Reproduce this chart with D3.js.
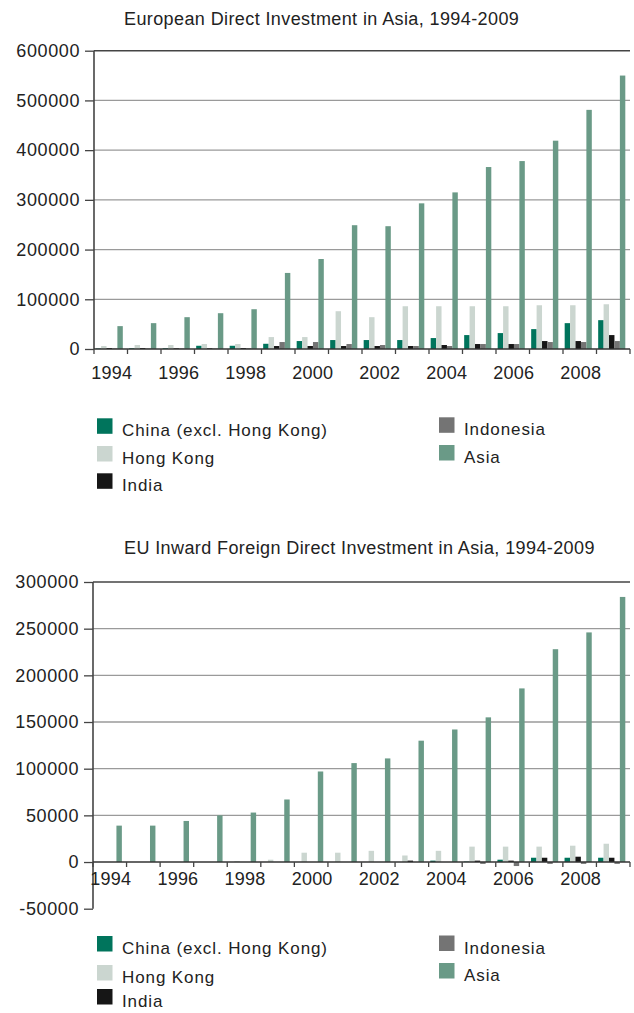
<!DOCTYPE html>
<html>
<head>
<meta charset="utf-8">
<script src="https://cdn.jsdelivr.net/npm/d3@7"></script>
<style>
  html, body { margin: 0; padding: 0; background: #fff; }
  svg { display: block; }
  text { font-family: "Liberation Sans", Arial, Helvetica, sans-serif; fill: #222; }
</style>
</head>
<body>
<svg id="chart" width="634" height="1013"></svg>
<script>
// ---------- DATA ----------
const years = ["1994","1995","1996","1997","1998","1999","2000","2001","2002","2003","2004","2005","2006","2007","2008","2009"];
const yearLabels = ["1994","1996","1998","2000","2002","2004","2006","2008"];
const series = ["China (excl. Hong Kong)", "Hong Kong", "India", "Indonesia", "Asia"];
const colors = ["#00745c", "#cbd6d0", "#161616", "#747474", "#6a9a87"];

// Chart 1: European Direct Investment in Asia
const title1 = "European Direct Investment in Asia, 1994-2009";
const top_china     = [1000, 1500, 1500, 6500, 6500, 10500, 16000, 18000, 18000, 18000, 22000, 28000, 32000, 40000, 52000, 58000];
const top_hongkong  = [6000, 8000, 8000, 10000, 10000, 24000, 24000, 76000, 64000, 86000, 86000, 86000, 86000, 88000, 88000, 90000];
const top_india     = [2000, 2000, 1500, 1500, 2000, 6000, 6000, 6000, 6000, 6000, 8000, 10000, 10000, 16000, 16000, 28000];
const top_indonesia = [1000, 1000, 1000, 1000, 1500, 14000, 14000, 10000, 8000, 6000, 6000, 10000, 10000, 14000, 14000, 16000];
const top_asia      = [46000, 52000, 64000, 72000, 80000, 153000, 181000, 249000, 247000, 293000, 315000, 366000, 378000, 419000, 481000, 550000];
const top_ticks     = [0, 100000, 200000, 300000, 400000, 500000, 600000];

// Chart 2: EU Inward Foreign Direct Investment in Asia
const title2 = "EU Inward Foreign Direct Investment in Asia, 1994-2009";
const bot_china     = [0, 0, 0, 0, 0, 0, 0, 0, 0, 0, 1500, 500, 2500, 4600, 4600, 4600];
const bot_hongkong  = [0, 0, 0, 0, 1000, 2500, 10000, 10000, 12000, 7000, 12000, 16500, 16500, 16500, 17500, 19600];
const bot_india     = [0, 0, 0, 0, 0, 0, 0, 0, 0, 1500, 0, 1500, 1500, 4600, 5700, 4600];
const bot_indonesia = [0, 0, 0, 0, 0, 0, 0, 0, 0, 0, 0, -2000, -4300, -2000, -2000, -2000];
const bot_asia      = [39000, 39000, 44000, 50000, 53000, 67000, 97000, 106000, 111000, 130000, 142000, 155000, 186000, 228000, 246000, 284000];
const bot_ticks     = [-50000, 0, 50000, 100000, 150000, 200000, 250000, 300000];

// ---------- DRAW ----------
const svg = d3.select("#chart");
const fmt = d3.formatLocale({ decimal: ".", thousands: "", grouping: [3], currency: ["", ""], minus: "-" }).format("d");

function drawChart(opt) {
  const g = svg.append("g");
  const values = opt.values;
  const x0 = d3.scaleBand().domain(years).range([opt.left, opt.right]).padding(0);
  const bw = x0.bandwidth();
  const x1 = d3.scaleBand().domain(series).range([bw * 0.05, bw * 0.86]).padding(0);
  const y = d3.scaleLinear().domain(opt.domain).range([opt.bottom, opt.top]);
  const ticks = opt.ticks;
  const yMax = d3.max(ticks), yMin = d3.min(ticks);

  // title
  g.append("text")
    .attr("x", opt.titleX).attr("y", opt.titleY)
    .attr("font-size", 18).attr("letter-spacing", 0.4)
    .text(opt.title);

  // gridlines (not at 0 or at the negative minimum)
  g.selectAll("line.grid").data(ticks.filter(t => t > 0))
    .enter().append("line")
    .attr("x1", opt.left).attr("x2", opt.right)
    .attr("y1", d => y(d)).attr("y2", d => y(d))
    .attr("stroke", d => d === yMax ? "#444" : "#9a9a9a")
    .attr("stroke-width", d => d === yMax ? 1.6 : 1.3);

  // bars
  const rows = years.map((yr, i) => ({ year: yr, vals: series.map((s, k) => ({ s, k, v: values[k][i] })) }));
  const grp = g.selectAll("g.year").data(rows).enter().append("g")
    .attr("transform", d => `translate(${x0(d.year)},0)`);
  grp.selectAll("rect").data(d => d.vals.filter(e => e.v !== 0)).enter().append("rect")
    .attr("x", d => x1(d.s))
    .attr("width", x1.bandwidth())
    .attr("y", d => Math.min(y(d.v), y(0)))
    .attr("height", d => Math.abs(y(d.v) - y(0)))
    .attr("fill", d => colors[d.k]);

  // y axis
  const yAxis = d3.axisLeft(y).tickValues(ticks).tickSize(9).tickPadding(5)
    .tickFormat(fmt);
  const ya = g.append("g").attr("transform", `translate(${opt.left},0)`).call(yAxis);
  ya.select(".domain").remove();
  ya.selectAll(".tick line").attr("stroke", "#444").attr("stroke-width", 1.3);
  ya.selectAll(".tick text").attr("font-size", 18).attr("letter-spacing", 0.6)
    .attr("fill", "#222").attr("font-family", '"Liberation Sans", Arial, sans-serif');
  g.append("line")
    .attr("x1", opt.left).attr("x2", opt.left)
    .attr("y1", y(yMax)).attr("y2", y(yMin))
    .attr("stroke", "#444").attr("stroke-width", 1.6);

  // x axis baseline
  g.append("line")
    .attr("x1", opt.left).attr("x2", opt.right)
    .attr("y1", y(0)).attr("y2", y(0))
    .attr("stroke", "#333").attr("stroke-width", 1.6);
  // band-edge ticks
  const edges = years.map(yr => x0(yr)).concat([opt.right]);
  g.selectAll("line.xt").data(edges).enter().append("line")
    .attr("x1", d => d).attr("x2", d => d)
    .attr("y1", y(0)).attr("y2", y(0) + 5)
    .attr("stroke", "#444").attr("stroke-width", 1.3);
  // year labels
  g.selectAll("text.xl").data(yearLabels).enter().append("text")
    .attr("x", d => x0(d) + bw / 2 + 1)
    .attr("y", y(0) + opt.xLabelOffset)
    .attr("text-anchor", "middle")
    .attr("font-size", 18).attr("letter-spacing", 0.2)
    .text(d => d);

  // legend
  series.forEach((s, i) => {
    const col = i < 3 ? 0 : 1;
    const row = i < 3 ? i : i - 3;
    const lx = col === 0 ? 97 : 439;
    const ly = opt.legendTops[col][row];
    g.append("rect").attr("x", lx).attr("y", ly).attr("width", 15.5).attr("height", 15.5)
      .attr("fill", colors[i]);
    g.append("text").attr("x", lx + 25).attr("y", ly + 18)
      .attr("font-size", 17).attr("letter-spacing", 0.9)
      .text(s);
  });
}

drawChart({
  title: title1, titleX: 124, titleY: 25,
  values: [top_china, top_hongkong, top_india, top_indonesia, top_asia],
  domain: [0, 600000], ticks: top_ticks,
  left: 94, right: 630, top: 50.7, bottom: 349,
  xLabelOffset: 30,
  legendTops: [[418.3, 446, 473.3], [417.3, 445]]
});

drawChart({
  title: title2, titleX: 124, titleY: 554,
  values: [bot_china, bot_hongkong, bot_india, bot_indonesia, bot_asia],
  domain: [-50000, 300000], ticks: bot_ticks,
  left: 93, right: 630, top: 582, bottom: 908.7,
  xLabelOffset: 23,
  legendTops: [[936, 965, 989], [935.5, 963]]
});
</script>
</body>
</html>
